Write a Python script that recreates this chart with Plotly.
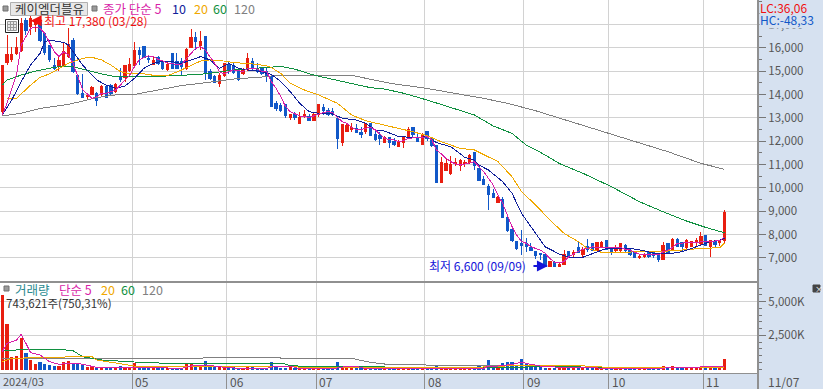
import plotly.graph_objects as go

opens = [13270,15370,15510,15770,15910,17160,16910,16990,17090,16630,
16090,15270,15230,15240,15630,16310,14840,14060,13910,14010,
14060,13990,14370,14410,14130,14730,14730,15030,15240,15910,
16060,15560,15310,15600,15370,15090,15770,15410,15400,15130,
16010,16440,16090,16490,14990,14770,14490,14840,15310,15270,
15030,14890,15060,15410,15130,15100,14990,14770,13630,13530,
13560,13000,13130,12770,13090,13060,12910,13160,13470,13300,
13270,12990,11940,12440,12490,12560,12380,12440,12770,12310,
12270,11960,12160,12010,11770,11940,12160,12600,12170,11880,
12440,12130,11800,10230,10740,10630,11030,10980,11060,11080,
11540,10840,10370,10080,9780,9380,9510,8740,8240,7700,
7630,7600,7440,7270,7200,7130,6620,6800,6630,6740,
7270,7130,7440,7170,7510,7640,7300,7510,7770,7380,
7310,7340,7550,7300,7270,7000,7050,7230,7240,7130,
6950,7630,7370,7810,7670,7450,7510,7650,7630,7980,
7510,7700,7680,7730]
highs = [15230,16560,16060,16490,17270,17270,17380,17200,17270,16630,
16130,15560,15630,16270,16840,16410,14890,14890,14030,14370,
14130,14400,14400,14440,14490,15130,15270,15560,16270,16060,
16090,15700,15630,15660,15440,15410,15800,15800,15560,15990,
16800,16700,16740,16490,15090,14840,14910,15340,15410,15340,
15090,15130,15800,15560,15340,15200,15130,14900,13730,13630,
13560,13170,13270,13270,13340,13170,13200,13590,13590,13440,
13410,12990,12740,12770,12770,12740,12600,12770,12770,12510,
12410,12230,12160,12130,12060,12160,12600,12600,12410,12340,
12440,12160,11800,11340,11270,11370,11270,11230,11200,11460,
11540,10940,10510,10170,9940,9660,9630,8770,8270,7730,
8200,7840,7630,7270,7200,7130,6880,6880,6840,7340,
7300,7340,7700,7450,7810,7640,7680,7710,7770,7410,
7550,7600,7580,7410,7300,7130,7200,7270,7270,7200,
7670,7630,7840,7840,7700,7830,7730,7870,8100,7980,
7770,7730,7770,9050]
lows = [13200,15270,15410,15700,15840,16560,16560,16700,16270,15700,
15410,15060,15030,15200,15560,14940,13990,13840,13810,13990,
13530,13940,13860,13940,14060,14560,14560,14990,15200,15270,
15560,15340,15270,15270,15060,15030,15100,15100,14840,15060,
15990,15910,15910,14630,14630,14490,14310,14770,14890,14890,
14600,14840,15030,15030,14910,14840,14560,13480,13300,13270,
12990,12910,12910,12740,12990,12870,12910,13030,13130,13090,
13090,11670,11800,12440,12380,12340,12130,12300,12240,12030,
11840,11910,11710,11800,11770,11710,12100,12200,11970,11880,
12010,11770,10230,10230,10730,10560,10940,10740,10910,11030,
10770,10310,10110,9050,9560,9340,8730,8130,7700,7340,
7130,7270,7310,6950,6910,6600,6600,6610,6610,6740,
7030,6980,7200,7030,7270,7310,7270,7480,7380,7130,
7270,7270,7270,7080,6980,6940,6980,7010,7010,6840,
6940,7200,7340,7480,7300,7380,7480,7480,7550,7510,
7050,7480,7510,7650]
closes = [15230,15700,15740,16010,17060,16770,17270,17130,16310,15800,
15490,15130,15460,15870,16170,14990,14030,13890,13960,14310,
13770,14370,13890,14030,14440,14630,15270,15310,15910,15700,
15600,15510,15460,15340,15100,15310,15130,15130,15200,15940,
16440,16270,16270,14940,14700,14510,14840,15340,15090,14940,
14660,15060,15530,15100,14990,14910,14770,13490,13410,13340,
13090,13130,13010,13030,13160,12910,13170,13590,13340,13170,
13170,12100,12740,12660,12590,12380,12300,12770,12270,12080,
12100,12160,11970,11870,12010,12160,12490,12300,12010,12300,
12130,11800,10230,11110,11060,11010,11110,11160,11110,11410,
10970,10340,10140,9710,9600,9580,8730,8170,7730,7410,
7540,7480,7340,7100,7160,6620,6830,6630,6730,7160,
7100,7250,7250,7380,7380,7310,7650,7680,7380,7270,
7440,7600,7310,7130,7010,7080,7170,7050,7100,6940,
7530,7200,7810,7510,7480,7770,7700,7750,7930,7530,
7750,7580,7770,8970]
volumes_k = [5490,3340,915,965,2280,1210,670,370,520,370,
270,250,220,520,590,420,370,300,170,220,
170,100,100,90,110,220,100,110,420,220,
130,100,100,130,130,100,90,100,110,370,
370,220,120,590,220,170,170,130,110,120,
100,100,150,120,100,90,100,540,220,80,
80,220,80,70,70,80,70,80,70,70,
70,520,100,220,90,220,90,70,80,70,
70,70,60,70,70,60,70,70,70,70,
60,70,220,60,60,60,70,60,60,70,
60,220,90,670,100,70,420,500,500,300,
720,420,300,300,120,90,100,80,90,220,
80,70,80,60,70,70,60,70,60,60,
60,60,60,60,60,60,60,60,60,60,
220,60,220,60,60,60,60,60,60,60,
60,60,60,743.621]

ma5 = [13130,13630,14270,14840,16130,16490,16840,16910,16840,16630,
16200,15840,15630,15840,15700,15340,14770,14230,14030,13840,
13910,14060,14060,14130,14200,14410,14630,14840,15200,15490,
15600,15660,15630,15510,15440,15340,15340,15270,15300,15560,
15770,15990,16060,15910,15630,15340,14990,14890,14990,15060,
15030,14990,15130,15130,15100,14990,14990,14560,14270,13910,
13490,13270,13170,13090,13060,13030,13090,13170,13230,13270,
13230,13030,12840,12770,12600,12510,12510,12560,12600,12490,
12310,12130,12060,12060,11980,12030,12130,12160,12160,12170,
12200,12060,11630,11460,11270,11130,11030,10980,11030,11060,
11130,10910,10700,10410,10130,9700,9340,8840,8340,7980,
7700,7630,7480,7410,7340,7200,6980,6810,6800,6840,
7050,7170,7270,7380,7410,7480,7450,7450,7450,7450,
7450,7450,7370,7340,7240,7160,7130,7130,7100,7130,
7270,7340,7450,7630,7630,7670,7670,7670,7700,7700,
7700,7730,7730,7910]
ma10_idx = [0,2,4,6,8,9,10,13,14,15,17,19,20,22,24,26,28,30,32,34,36,38,40,42,44,46,48,50,52,55,56,
57,59,61,63,65,67,70,72,75,77,79,81,84,88,90,92,95,98,100,
101,103,106,108,110,113,115,118,120,123,126,128,131,133,136,138,141,144,147,150,152,153]
ma10 = [13130,13770,14560,15270,15770,16270,16340,16240,16130,15840,15270,14840,14630,14410,14270,14370,14700,15130,15340,15440,15410,15340,15490,15630,15490,15130,15340,15130,15060,14990,14910,
14870,14560,14130,13630,13270,13200,13170,12990,12910,12770,12490,12440,12200,12160,12200,11940,11770,11310,11200,
10980,10770,10270,9770,8910,8060,7480,7170,7030,7030,7270,7410,7410,7410,7310,7200,7170,7270,7480,7700,7770,7840]
ma20_idx = [1,3,6,8,10,12,14,16,18,19,21,23,25,27,30,33,35,38,40,42,44,47,49,52,56,
57,59,61,64,67,71,74,77,81,84,87,90,93,97,100,105,108,110,
113,116,119,122,124,127,131,134,139,144,148,152,153]
ma20 = [13840,13840,14410,14740,14890,15130,15340,15490,15600,15600,15490,15270,14990,14890,14890,14800,14810,15060,15240,15440,15490,15440,15370,15340,15240,
15160,14910,14490,14200,13990,13630,13130,12880,12700,12560,12410,12240,11980,11700,11630,11130,10480,9840,
9270,8630,8060,7700,7410,7240,7240,7240,7270,7340,7410,7440,7630]
ma60_idx = [0,1,4,7,10,13,15,18,21,24,28,31,35,39,43,49,53,56,
57,59,62,66,69,74,78,81,85,90,96,100,104,108,111,114,118,123,129,135,140,145,149,152,153]
ma60 = [14410,14630,14840,15010,15130,15230,15200,15030,14890,14770,14770,14800,14800,14840,14890,15060,15130,15160,
15170,15210,15090,14840,14700,14460,14300,14240,14060,13770,13390,13130,12660,12340,11840,11530,11050,10630,10060,9410,8980,8580,8310,8130,8080]
ma120_idx = [0,4,8,14,20,24,28,33,38,43,49,56,57,65,74,78,83,89,96,102,107,113,133,141,148,153]
ma120 = [13090,13200,13410,13580,13870,13990,14010,14200,14390,14510,14670,14770,14800,14800,14830,14660,14460,14300,14060,13840,13630,13310,12056,11556,11056,10800]

vma5_idx = [0,1,3,4,5,6,8,10,12,14,16,18,20,24,28,32,35,38,40,43,45,47,50,56,58,61,63,70,73,75,77,85,95,102,103,105,108,110,112,114,118,125,130,138,153]
vma5 = [1290,1905,2150,2570,1905,1210,1040,545,345,420,420,270,125,75,125,100,50,50,220,300,220,125,50,50,220,220,25,25,200,200,25,50,50,50,220,220,345,495,345,220,125,75,50,50,200]
vma20_idx = [0,2,7,13,14,19,20,24,28,33,39,43,49,56,57,70,100,108,118,125,128,153]
vma20 = [545,790,840,865,940,915,670,420,220,170,170,170,170,170,170,120,120,245,220,220,110,110]
vma60_idx = [0,3,12,15,17,21,28,35,56,57,60,61,66,100,110,120,128,153]
vma60 = [1360,1410,1460,1360,915,670,520,420,420,420,370,245,170,120,170,170,100,100]
vma120_idx = [0,42,43,57,60,74,78,81,89,90,118,119,153]
vma120 = [770,770,865,865,790,790,495,370,370,270,270,125,125]

price_ticks = [7000,8000,9000,10000,11000,12000,13000,14000,15000,16000,17000]
volume_ticks = [2500,5000]
volume_tick_labels = ["2,500K","5,000K"]
month_edges = [27.5,47.5,66.5,89.5,110.5,128.5,148.5]
month_labels = ["05","06","07","08","09","10","11"]

RED, BLUE = "#e81e10", "#1158c8"
PINK, NAVY, ORANGE, GREEN, GREY = "#d81fa8", "#10209a", "#f0a800", "#109040", "#808080"
BAND = "#d6e1f0"
W, H = 823, 389
PW, PH = 758, 373
FONT = "Noto Sans CJK KR"
px = lambda x: x / PW
py = lambda y: 1 - y / PH
idx = list(range(len(closes)))
bar_colors = [RED if c >= o else BLUE for o, c in zip(opens, closes)]

fig = go.Figure()
fig.add_trace(go.Bar(x=idx, y=[v + 70 for v in volumes_k], base=-70, marker=dict(color=bar_colors, line_width=0),
                     width=0.68, xaxis="x2", yaxis="y2"))
for xs, ys, c in [(vma120_idx, vma120, GREY), (vma60_idx, vma60, GREEN), (vma20_idx, vma20, ORANGE), (vma5_idx, vma5, PINK)]:
    fig.add_trace(go.Scatter(x=xs, y=ys, mode="lines", line=dict(color=c, width=1), xaxis="x2", yaxis="y2"))
for xs, ys, c in [(ma120_idx, ma120, GREY), (ma60_idx, ma60, GREEN)]:
    fig.add_trace(go.Scatter(x=xs, y=ys, mode="lines", line=dict(color=c, width=1), xaxis="x", yaxis="y"))
fig.add_trace(go.Candlestick(x=idx, open=opens, high=highs, low=lows, close=closes, whiskerwidth=0,
                             increasing=dict(line=dict(color=RED, width=1), fillcolor=RED),
                             decreasing=dict(line=dict(color=BLUE, width=1), fillcolor=BLUE),
                             xaxis="x", yaxis="y"))
for xs, ys, c in [(ma20_idx, ma20, ORANGE), (ma10_idx, ma10, NAVY), (idx, ma5, PINK)]:
    fig.add_trace(go.Scatter(x=xs, y=ys, mode="lines", line=dict(color=c, width=1), xaxis="x", yaxis="y"))

def label(x, y, text, color, size=12, **kw):
    return dict(x=px(x), y=py(y), xref="paper", yref="paper", text=text, showarrow=False, xanchor="left",
                yanchor="middle", borderpad=0, font=dict(color=color, size=size, family=FONT), **kw)

anns = [
    label(14, 8.5, "케이엠더블유", "#333333", 12.5),
    label(102, 8, "종가 단순 5", PINK, 12.5), label(171, 8, "10", NAVY, 12.5), label(193, 8, "20", ORANGE, 12.5),
    label(212, 8, "60", GREEN, 12.5), label(233, 8, "120", GREY, 12.5),
    label(43, 20, "최고 17,380 (03/28)", "#f01010", 12),
    label(428, 265, "최저 6,600 (09/09)", "#1414d8", 12),
    label(14, 289, "거래량", "#2a8a90", 12.5), label(58, 289, "단순 5", PINK, 12.5), label(100, 289, "20", ORANGE, 12.5),
    label(120, 289, "60", GREEN, 12.5), label(141, 289, "120", GREY, 12.5),
    label(5, 303, "743,621주(750,31%)", "#333333", 11.5),
    label(759, 19, "HC:-48,33", "#1158c8", 12, bgcolor=BAND),
    label(759, 7, "LC:36,06", "#f01010", 12),
    label(2, 381, "2024/03", "#555555", 11),
    label(767, 381, "11/07", "#555555", 12),
    label(813.5, 288.5, "×", "#ffffff", 8),
    dict(x=6, y=17170, xref="x", yref="y", text="", showarrow=True, ax=13, ay=0, axref="pixel", ayref="pixel",
         arrowcolor="#f01010", arrowhead=2, arrowsize=1.1, arrowwidth=2, standoff=0),
    dict(x=115.6, y=6656, xref="x", yref="y", text="", showarrow=True, ax=-16, ay=0, axref="pixel", ayref="pixel",
         arrowcolor="#1414d8", arrowhead=2, arrowsize=1.1, arrowwidth=2, standoff=0),
]
for m, t in zip(month_edges, month_labels):
    anns.append(dict(x=m, y=py(381), xref="x2", yref="paper", text=t, showarrow=False, xanchor="left",
                     yanchor="middle", xshift=1, font=dict(color="#555555", size=12, family=FONT)))

def rect(x0, y0, x1, y1, fill="rgba(0,0,0,0)", line="rgba(0,0,0,0)", lw=1):
    return dict(type="rect", xref="paper", yref="paper", x0=px(x0), x1=px(x1), y0=py(y0), y1=py(y1),
                fillcolor=fill, line=dict(color=line, width=lw), layer="above")
def seg(x0, y0, x1, y1, c, lw=1):
    return dict(type="line", xref="paper", yref="paper", x0=px(x0), x1=px(x1), y0=py(y0), y1=py(y1),
                line=dict(color=c, width=lw), layer="above")

shapes = [
    seg(0, 282, 758, 282, "#909090", 2),
    seg(0, 373.5, 758, 373.5, "#909090", 1),
    seg(758, 0, 758, 389, "#909090", 2),
    rect(10.5, 2.5, 87.5, 15.5, "#e8e8e8", "#b0b0b0"),
    rect(3, 6, 8, 11, "#9a9a9a", "#707070"),
    rect(92, 6, 97, 11, "#9a9a9a", "#707070"),
    rect(4, 286, 9, 291, "#9a9a9a", "#707070"),
    rect(5.5, 19.5, 18.5, 32.5, "#ffffff", "#222222"),
    rect(7.5, 21.5, 16.5, 30.5, "#e8e8e8", "#999999"),
    seg(10.5, 21.5, 10.5, 30.5, "#999999"), seg(13.5, 21.5, 13.5, 30.5, "#999999"),
    seg(7.5, 24.5, 16.5, 24.5, "#999999"), seg(7.5, 27.5, 16.5, 27.5, "#999999"),
    rect(813, 285, 820, 292, "#444444", "#444444"),
]

tickf = dict(color="#555555", size=11.5, family=FONT)
fig.update_layout(
    width=W, height=H, margin=dict(l=0, r=65, t=0, b=16), paper_bgcolor=BAND, plot_bgcolor="#ffffff",
    showlegend=False, hovermode=False, bargap=0, annotations=anns, shapes=shapes,
    xaxis=dict(domain=[0, 1], range=[-0.49, 160.1], anchor="y", tickvals=month_edges, showticklabels=False,
               showgrid=True, gridcolor="#d2d2d2", gridwidth=1, ticks="", zeroline=False, rangeslider=dict(visible=False)),
    xaxis2=dict(domain=[0, 1], range=[-0.49, 160.1], anchor="y2", tickvals=month_edges, showticklabels=False,
                showgrid=True, gridcolor="#d2d2d2", gridwidth=1, ticks="outside", ticklen=16, tickcolor="#909090",
                tickwidth=1, zeroline=False),
    yaxis=dict(domain=[92 / 373, 1], range=[6013, 18057], side="right", anchor="x", tickvals=price_ticks,
               tickformat=",d", showgrid=True, gridcolor="#d2d2d2", gridwidth=1, ticks="outside", ticklen=7,
               tickcolor="#777777", tickfont=tickf, zeroline=False,
               minor=dict(dtick=500, ticks="outside", ticklen=3, tickcolor="#777777", showgrid=False)),
    yaxis2=dict(domain=[0, 90 / 373], range=[-297, 6385], side="right", anchor="x2", tickvals=volume_ticks,
                ticktext=volume_tick_labels, showgrid=True, gridcolor="#d2d2d2", gridwidth=1, ticks="outside",
                ticklen=7, tickcolor="#777777", tickfont=tickf, zeroline=False,
                minor=dict(dtick=500, ticks="outside", ticklen=3, tickcolor="#777777", showgrid=False)),
)
crisp = ("document.body.style.margin='0';document.body.style.overflow='hidden';"
         "document.querySelectorAll('.scatterlayer .js-line, .boxlayer path').forEach(function(p){p.style.shapeRendering='crispEdges';});")
fig.write_html("out.html", config=dict(displayModeBar=False), post_script=crisp)
